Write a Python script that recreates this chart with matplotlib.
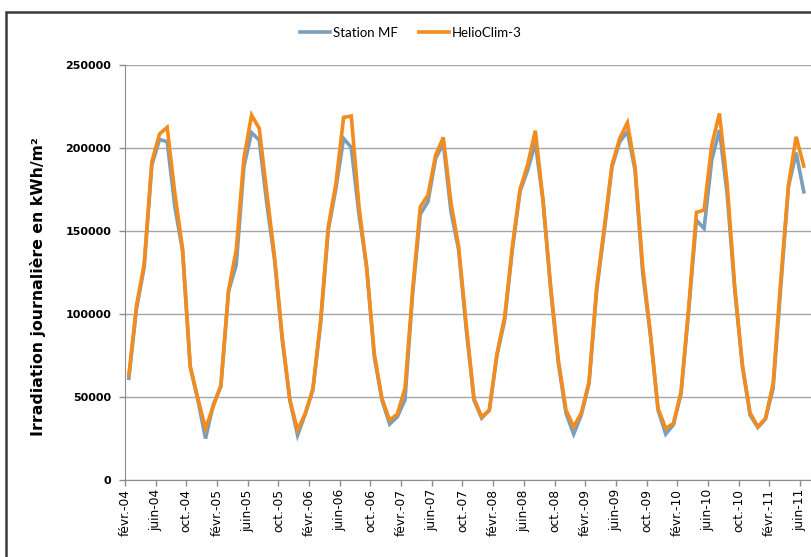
import matplotlib
matplotlib.use("Agg")
import matplotlib.pyplot as plt
import numpy as np
from matplotlib.patches import Rectangle

# ---------------- data ----------------
tick_labels = ["févr.-04", "juin-04", "oct.-04", "févr.-05", "juin-05", "oct.-05",
               "févr.-06", "juin-06", "oct.-06", "févr.-07", "juin-07", "oct.-07",
               "févr.-08", "juin-08", "oct.-08", "févr.-09", "juin-09", "oct.-09",
               "févr.-10", "juin-10", "oct.-10", "févr.-11", "juin-11"]

station_mf = [61000, 103000, 128000, 189700, 205100, 203700, 164500, 138000, 68000, 47900,
              24700, 45000, 56000, 113500, 129300, 188600, 209200, 204700, 166000, 132300,
              84100, 47500, 26700, 39500, 54000, 94000, 150400, 175600, 205700, 200300,
              160000, 128300, 74000, 47900, 33400, 37800, 47900, 112000, 160100, 167500,
              193700, 202700, 161500, 138400, 90100, 47900, 37000, 41800, 75000, 96000,
              138400, 173600, 186600, 203100, 168000, 114200, 70000, 39800, 27400, 39000,
              57900, 114200, 150400, 188600, 203700, 209700, 186600, 124300, 87000, 41800,
              27400, 33000, 51900, 102200, 156400, 151400, 192700, 210700, 172600, 114200,
              68000, 38800, 31400, 36400, 54900, 116200, 176600, 197100, 173500]

helioclim3 = [63000, 105000, 130000, 191700, 208400, 212400, 172600, 139400, 68400, 48900,
              30800, 44000, 56900, 114200, 138400, 193700, 219800, 211800, 172600, 134300,
              86100, 47900, 29800, 39800, 54900, 96000, 152400, 178600, 218400, 219200,
              165000, 128000, 76000, 48900, 35800, 39400, 54900, 114200, 164500, 171500,
              195700, 206300, 167000, 140400, 93000, 48900, 37800, 41800, 76000, 98200,
              140400, 175000, 190000, 210400, 168500, 116200, 72000, 41800, 31800, 40200,
              58900, 116200, 152400, 190000, 205700, 215200, 188600, 128300, 88100, 42800,
              30800, 33800, 52900, 104200, 161100, 162500, 201700, 220800, 178600, 116200,
              69000, 40200, 31800, 36800, 57900, 120300, 177600, 206700, 189000]

series_names = ["Station MF", "HelioClim-3"]
months_per_tick = 4

# ---------------- figure ----------------
W, H = 812, 557
fig = plt.figure(figsize=(W / 100, H / 100), dpi=100)
fig.patch.set_facecolor("white")

left_px, right_px = 125, 812
y0_px, ytop_px = 479.5, 65
ax = fig.add_axes([left_px / W, 1 - y0_px / H, (right_px - left_px) / W, (y0_px - ytop_px) / H])

n = len(station_mf)
x = np.arange(n) + 0.5
blue = "#7A9FBD"
orange = "#F28C1E"
l1, = ax.plot(x, station_mf, color=blue, lw=2.6, solid_joinstyle="miter", zorder=3)
l2, = ax.plot(x, helioclim3, color=orange, lw=2.6, solid_joinstyle="miter", zorder=4)

px_per_month = 7.67
ax.set_xlim(0, (right_px - left_px) / px_per_month)
ax.set_ylim(0, 250000)
ax.set_yticks(np.arange(0, 250001, 50000))
ax.set_yticklabels([f"{v:d}" for v in range(0, 250001, 50000)], fontsize=8,
                   fontweight="bold", family="DejaVu Sans")
xt = np.arange(len(tick_labels)) * months_per_tick
ax.set_xticks(xt)
ax.set_xticklabels(tick_labels, rotation=90, fontsize=8.8, family="DejaVu Sans")

ax.grid(axis="y", color="#A6A6A6", lw=1.0)
ax.set_axisbelow(True)
for s in ["top", "right"]:
    ax.spines[s].set_visible(False)
ax.spines["left"].set_color("#8C8C8C")
ax.spines["bottom"].set_color("#8C8C8C")
ax.tick_params(axis="both", color="#8C8C8C", length=4, width=1)
ax.tick_params(axis="x", pad=3)
ax.tick_params(axis="y", pad=6)

fig.text(38 / W, 1 - 287 / H, "Irradiation journalière en kWh/m²", rotation=90,
         ha="center", va="center", fontsize=11.3, fontweight="bold", family="DejaVu Sans")

fig.legend([l1, l2], series_names, loc="center", bbox_to_anchor=(411 / W, 1 - 33 / H),
           ncol=2, frameon=False, handlelength=2.3, columnspacing=1.6, handletextpad=0.2,
           prop={"family": ["Lato", "DejaVu Sans"], "size": 9.5})

# chart border
fig.patches.append(Rectangle((6 / W, -0.05), 1.1, 1 - 12 / H + 0.05, transform=fig.transFigure,
                             fill=False, edgecolor="#3A3A3A", lw=1.8, clip_on=False))

fig.savefig("out.png", dpi=100)
